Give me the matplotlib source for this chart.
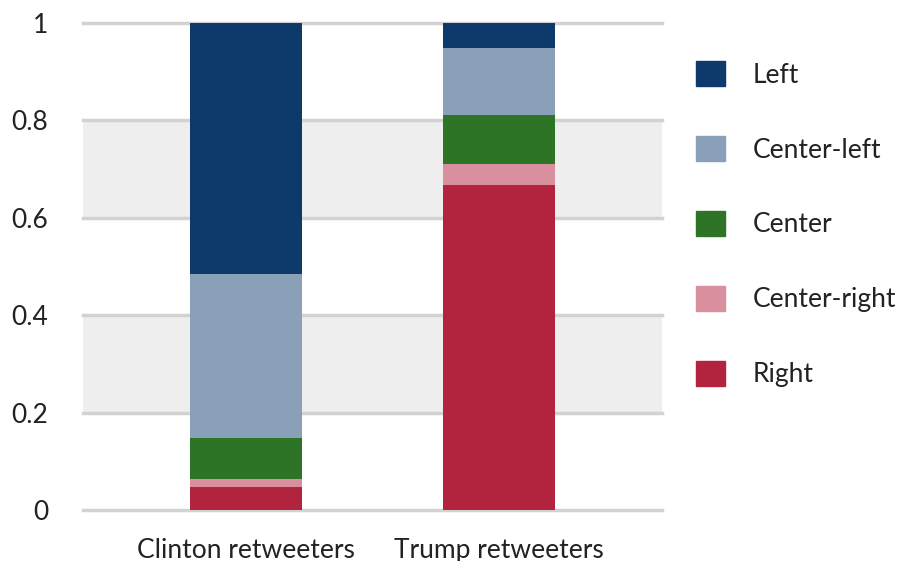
import matplotlib
matplotlib.use('Agg')
import matplotlib.pyplot as plt
import numpy as np
from matplotlib.patches import Patch

plt.rcParams['font.family'] = ['Lato', 'DejaVu Sans']

groups = ['Clinton retweeters', 'Trump retweeters']
categories = ['Right', 'Center-right', 'Center', 'Center-left', 'Left']
right = [0.047, 0.667]
center_right = [0.017, 0.043]
center = [0.084, 0.101]
center_left = [0.337, 0.138]
left = [0.515, 0.051]
colors = ['#b2233e', '#d98f9e', '#2d7427', '#8aa0b8', '#0e3a6b']
yticks = [0, 0.2, 0.4, 0.6, 0.8, 1]
ytick_labels = ['0', '0.2', '0.4', '0.6', '0.8', '1']

series = [right, center_right, center, center_left, left]

fig = plt.figure(figsize=(9.04, 5.61), dpi=100)
ax = fig.add_axes([83 / 904, 51 / 561, 579 / 904, 487 / 561])

# shaded bands and grid
for lo, hi in [(0.2, 0.4), (0.6, 0.8)]:
    ax.axhspan(lo, hi, color='#eeeeee', zorder=0, lw=0)
for y in yticks:
    ax.axhline(y, color='#d2d2d2', lw=2.5, zorder=1, clip_on=False)

x = np.arange(len(groups))
bottom = np.zeros(len(groups))
for vals, name, c in zip(series, categories, colors):
    ax.bar(x, vals, width=0.443, bottom=bottom, color=c, label=name, zorder=2, lw=0)
    bottom += np.array(vals)

ax.set_xlim(-0.644, 1.644)
ax.set_ylim(0, 1)
ax.set_yticks(yticks)
ax.set_yticklabels(ytick_labels)
ax.set_xticks(x)
ax.set_xticklabels(groups)
ax.tick_params(axis='y', length=0, pad=25, labelsize=19, labelcolor='#222222')
ax.tick_params(axis='x', length=0, pad=20, labelsize=19, labelcolor='#222222')
for s in ax.spines.values():
    s.set_visible(False)

handles = [Patch(color=c, label=n) for c, n in zip(colors[::-1], categories[::-1])]
leg = fig.legend(handles=handles, loc='upper left', bbox_to_anchor=(696 / 904, 1 - 61 / 561),
                 frameon=False, fontsize=19, handlelength=1.1, handleheight=1.1,
                 labelspacing=1.83, handletextpad=1.06, borderpad=0, borderaxespad=0)
for t in leg.get_texts():
    t.set_color('#222222')

fig.savefig('out.png', dpi=100)
